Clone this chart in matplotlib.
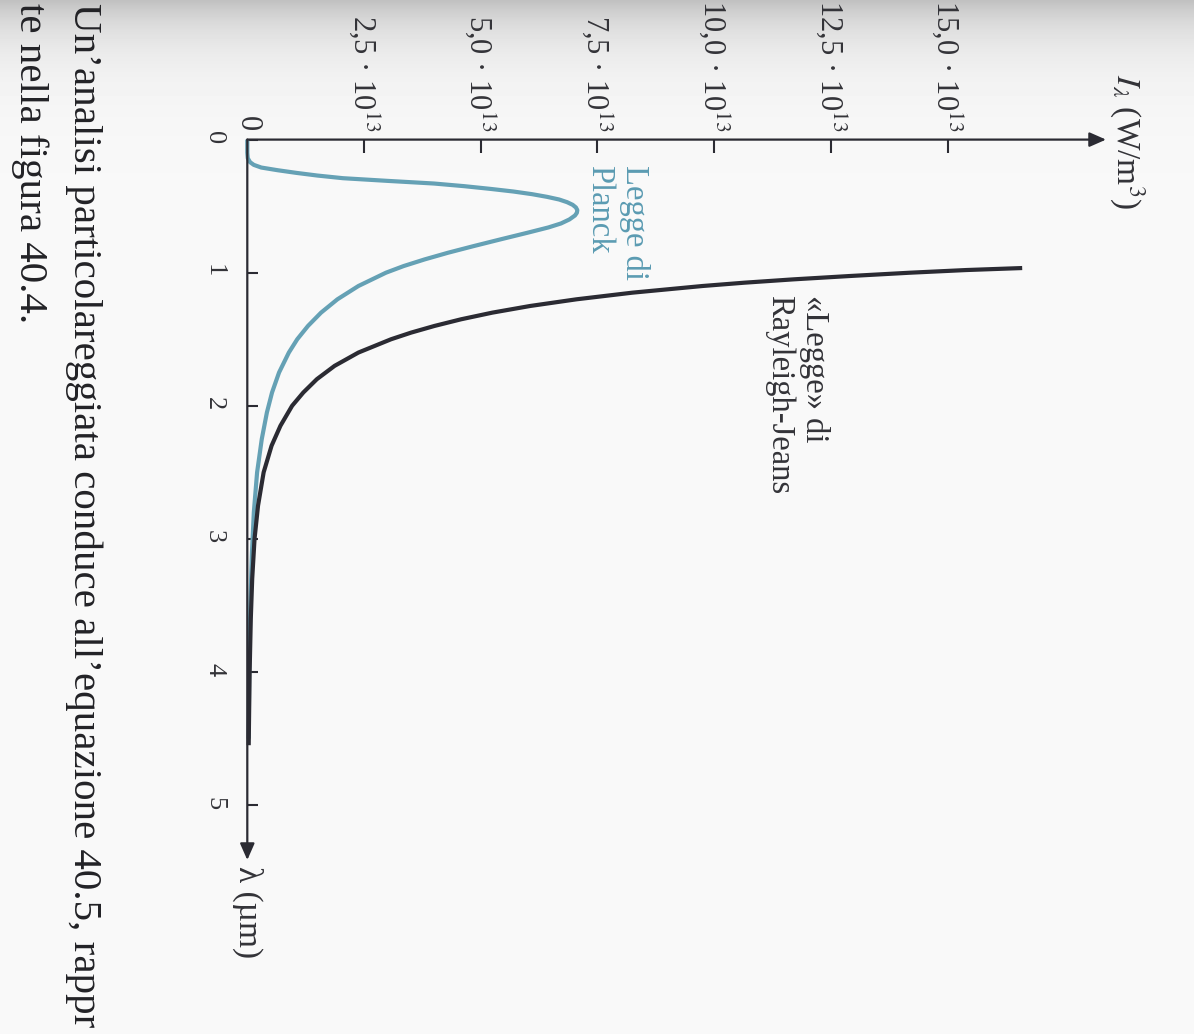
import numpy as np
import matplotlib.pyplot as plt

plt.rcParams['font.family'] = ['Liberation Serif', 'DejaVu Serif']
plt.rcParams['mathtext.fontset'] = 'stix'

# valori: lambda in µm, intensita' in unita' di 1e13 W/m^3
lam_planck = [0.00, 0.10, 0.14, 0.17, 0.19, 0.21, 0.23, 0.25, 0.27, 0.29, 0.31, 0.33,
              0.35, 0.37, 0.39, 0.41, 0.43, 0.45, 0.47, 0.49, 0.51, 0.53, 0.55, 0.57,
              0.60, 0.63, 0.66, 0.70, 0.75, 0.80, 0.85, 0.90, 0.95, 1.00, 1.10, 1.20,
              1.30, 1.40, 1.50, 1.60, 1.75, 1.90, 2.05, 2.25, 2.50, 2.80, 3.10, 3.50,
              4.00, 4.50]
i_planck = [0.00, 0.00, 0.01, 0.06, 0.14, 0.30, 0.65, 1.05, 1.50, 2.05, 3.00, 4.00,
            4.65, 5.20, 5.70, 6.10, 6.42, 6.68, 6.85, 6.97, 7.04, 7.07, 7.06, 7.02,
            6.90, 6.72, 6.45, 6.00, 5.42, 4.85, 4.30, 3.80, 3.35, 2.97, 2.38, 1.93,
            1.58, 1.30, 1.07, 0.89, 0.68, 0.53, 0.42, 0.31, 0.21, 0.14, 0.10, 0.065,
            0.04, 0.03]

lam_rj = [0.965, 0.98, 1.00, 1.025, 1.05, 1.075, 1.10, 1.15, 1.20, 1.25, 1.30, 1.35,
          1.40, 1.45, 1.50, 1.60, 1.70, 1.80, 1.90, 2.00, 2.15, 2.30, 2.50, 2.75,
          3.00, 3.30, 3.60, 4.00, 4.55]
i_rj = [16.6, 15.4, 14.2, 12.9, 11.7, 10.65, 9.75, 8.25, 7.05, 6.06, 5.25, 4.58,
        4.01, 3.51, 3.08, 2.38, 1.87, 1.49, 1.20, 0.96, 0.71, 0.52, 0.35, 0.23,
        0.155, 0.105, 0.075, 0.05, 0.03]

i_ticks = [0, 2.5, 5, 7.5, 10, 12.5, 15]
i_labels = ['0', '2,5 · 10$^{\\mathrm{13}}$', '5,0 · 10$^{\\mathrm{13}}$',
            '7,5 · 10$^{\\mathrm{13}}$', '10,0 · 10$^{\\mathrm{13}}$',
            '12,5 · 10$^{\\mathrm{13}}$', '15,0 · 10$^{\\mathrm{13}}$']
lam_ticks = [0, 1, 2, 3, 4, 5]

ink = '#2b2b33'
blu = '#65a1b5'

fig = plt.figure(figsize=(11.94, 10.34), dpi=100)

# fondo della pagina scansionata, piu' scuro in alto
bg = fig.add_axes([0, 0, 1, 1])
rows = np.arange(1034)
shade = 0.975 - 0.22 * np.exp(-rows / 38.0)
bg.imshow(np.tile(shade[:, None], (1, 20)), extent=[0, 1, 0, 1], aspect='auto',
          cmap='gray', vmin=0, vmax=1)
bg.axis('off')

# testo del libro sul bordo sinistro (ruotato come la pagina)
fig.text(74 / 1194, 1 - 3 / 1034,
         'Un\u2019analisi particolareggiata conduce all\u2019equazione 40.5, rappr',
         rotation=270, rotation_mode='anchor', ha='left', va='baseline',
         fontsize=29.5, color='#222226')
fig.text(20 / 1194, 1 - 3 / 1034, 'te nella figura 40.4.',
         rotation=270, rotation_mode='anchor', ha='left', va='baseline',
         fontsize=29.5, color='#222226')

# grafico ruotato: intensita' in orizzontale, lambda verso il basso
ax = fig.add_axes([247.3 / 1194, 1 - 860 / 1034, (1106 - 247.3) / 1194, (860 - 139.6) / 1034])
ax.patch.set_alpha(0)
ax.set_xlim(0, (1106 - 247.3) / 46.68)
ax.set_ylim((860 - 139.6) / 133.1, 0)

ax.plot(i_planck, lam_planck, color=blu, lw=3.0, solid_capstyle='butt', clip_on=False)
ax.plot(i_rj, lam_rj, color=ink, lw=3.0, solid_capstyle='butt', clip_on=False)

for s in ax.spines.values():
    s.set_visible(False)
arrow = dict(arrowstyle='-|>,head_length=0.5,head_width=0.22', color=ink, lw=1.6,
             mutation_scale=20, shrinkA=0, shrinkB=0)
ax.annotate('', xy=(1, 1), xytext=(0, 1), xycoords='axes fraction', arrowprops=arrow)
ax.annotate('', xy=(0, 0), xytext=(0, 1), xycoords='axes fraction', arrowprops=arrow)

ax.xaxis.tick_top()
ax.set_xticks(i_ticks)
ax.set_xticklabels(i_labels)
ax.set_yticks(lam_ticks)
ax.tick_params(axis='x', direction='in', length=9, width=1.5, color=ink,
               labelcolor='#333338', labelsize=22, pad=6, labelrotation=270)
ax.tick_params(axis='y', direction='in', length=8, width=1.5, color=ink,
               labelcolor='#333338', labelsize=19, pad=16, labelrotation=270)

ax.text((1127 - 247.3) / 46.68, 0.018, '$I_\\lambda$ (W/m$^{3}$)', rotation=270,
        ha='center', va='center', fontsize=24, color='#333338', clip_on=False)
ax.text(0, (866 - 139.6) / 133.1, 'λ (µm)', rotation=270, ha='center', va='top',
        fontsize=24, color='#333338', clip_on=False)

ax.text((650 - 247.3) / 46.68, (165 - 139.6) / 133.1, 'Legge di\nPlanck', rotation=270,
        ha='right', va='top', multialignment='left', fontsize=23.5, color='#5b9bb2')
ax.text((830 - 247.3) / 46.68, (295 - 139.6) / 133.1, '\u00abLegge\u00bb di\nRayleigh-Jeans',
        rotation=270, ha='right', va='top', multialignment='left', fontsize=23.5,
        color='#333338')

plt.savefig('out.png', dpi=100)
